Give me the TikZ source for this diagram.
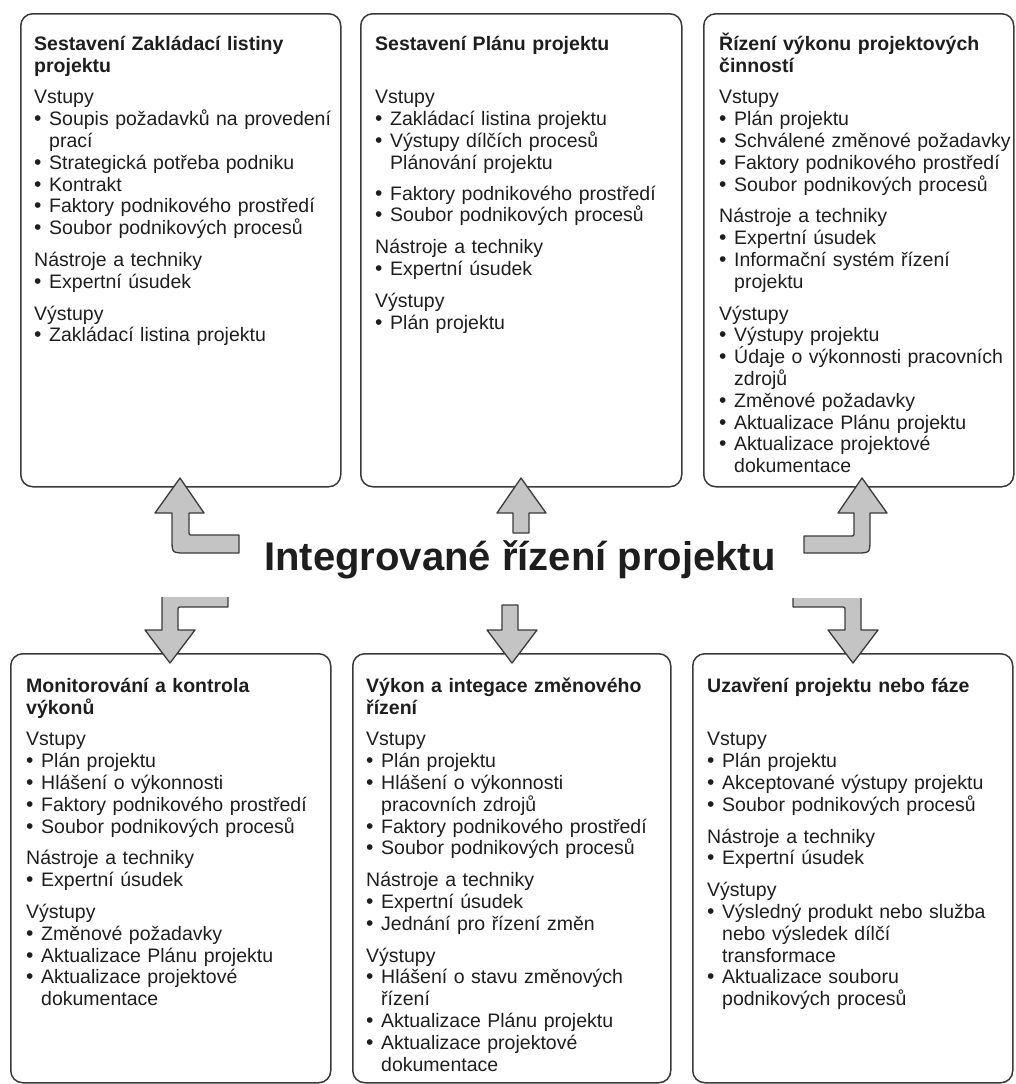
\documentclass[tikz,border=0pt]{standalone}
\usepackage{fontspec}
\setmainfont{Liberation Sans}

\definecolor{ink}{HTML}{1E1E1E}
\definecolor{frame}{HTML}{3A3A3A}
\definecolor{arrowfill}{HTML}{C4C4C4}
\definecolor{arrowline}{HTML}{3A3A3A}

% list helpers for the process boxes
\newcommand\dotmark{{\fontsize{21}{21}\selectfont•}}
\newcommand\grp[2][10pt]{\par\vspace{#1}\noindent #2}
\newcommand\bul[1]{\par\noindent\hangindent=15pt\hangafter=1\makebox[15pt][l]{\dotmark}#1\par}
\newcommand\firstline[1]{\noindent\rule{0pt}{20pt}#1}
\newcommand\bodyfont{\fontsize{19.5}{21.8}\selectfont}

\tikzset{
  procbox/.style={draw=frame, line width=1.5pt, rounded corners=12pt,
    anchor=north west, inner sep=0pt},
  boxbody/.style={anchor=north west, inner sep=0pt, text width=330pt, align=left,
    font=\bodyfont, text=ink},
  bigarrow/.style={fill=arrowfill, draw=arrowline, line width=1.3pt, line join=round},
}

\begin{document}
\lineskiplimit=-30pt
\begin{tikzpicture}[x=1pt, y=-1pt]
\useasboundingbox (0,0) rectangle (1015,1084);

% process boxes
\node[procbox, minimum width=320pt, minimum height=473pt] (b1) at (20,13) {};
\node[procbox, minimum width=321pt, minimum height=473pt] (b2) at (360,13) {};
\node[procbox, minimum width=310pt, minimum height=473pt] (b3) at (703,13) {};
\node[procbox, minimum width=320pt, minimum height=429pt] (b4) at (10,653) {};
\node[procbox, minimum width=318pt, minimum height=429pt] (b5) at (352,653) {};
\node[procbox, minimum width=320pt, minimum height=429pt] (b6) at (692,653) {};

% box contents
\node[boxbody] (t1) at (34,30) {\firstline{\textbf{Sestavení Zakládací listiny}\newline\textbf{projektu}}
\grp{Vstupy}
\bul{Soupis požadavků na provedení\newline prací}
\bul{Strategická potřeba podniku}
\bul{Kontrakt}
\bul{Faktory podnikového prostředí}
\bul{Soubor podnikových procesů}
\grp{Nástroje a techniky}
\bul{Expertní úsudek}
\grp{Výstupy}
\bul{Zakládací listina projektu}};

\node[boxbody] (t2) at (375,30) {\firstline{\textbf{Sestavení Plánu projektu}}
\grp[31.8pt]{Vstupy}
\bul{Zakládací listina projektu}
\bul{Výstupy dílčích procesů\newline Plánování projektu}
\vspace{9pt}
\bul{Faktory podnikového prostředí}
\bul{Soubor podnikových procesů}
\grp{Nástroje a techniky}
\bul{Expertní úsudek}
\grp{Výstupy}
\bul{Plán projektu}};

\node[boxbody] (t3) at (719,30) {\firstline{\textbf{Řízení výkonu projektových}\newline\textbf{činností}}
\grp{Vstupy}
\bul{Plán projektu}
\bul{Schválené změnové požadavky}
\bul{Faktory podnikového prostředí}
\bul{Soubor podnikových procesů}
\grp{Nástroje a techniky}
\bul{Expertní úsudek}
\bul{Informační systém řízení\newline projektu}
\grp{Výstupy}
\bul{Výstupy projektu}
\bul{Údaje o výkonnosti pracovních\newline zdrojů}
\bul{Změnové požadavky}
\bul{Aktualizace Plánu projektu}
\bul{Aktualizace projektové\newline dokumentace}};

\node[boxbody] (t4) at (26,672) {\firstline{\textbf{Monitorování a kontrola}\newline\textbf{výkonů}}
\grp{Vstupy}
\bul{Plán projektu}
\bul{Hlášení o výkonnosti}
\bul{Faktory podnikového prostředí}
\bul{Soubor podnikových procesů}
\grp{Nástroje a techniky}
\bul{Expertní úsudek}
\grp{Výstupy}
\bul{Změnové požadavky}
\bul{Aktualizace Plánu projektu}
\bul{Aktualizace projektové\newline dokumentace}};

\node[boxbody] (t5) at (366,672) {\firstline{\textbf{Výkon a integace změnového}\newline\textbf{řízení}}
\grp{Vstupy}
\bul{Plán projektu}
\bul{Hlášení o výkonnosti\newline pracovních zdrojů}
\bul{Faktory podnikového prostředí}
\bul{Soubor podnikových procesů}
\grp{Nástroje a techniky}
\bul{Expertní úsudek}
\bul{Jednání pro řízení změn}
\grp{Výstupy}
\bul{Hlášení o stavu změnových\newline řízení}
\bul{Aktualizace Plánu projektu}
\bul{Aktualizace projektové\newline dokumentace}};

\node[boxbody] (t6) at (707,672) {\firstline{\textbf{Uzavření projektu nebo fáze}}
\grp[31.8pt]{Vstupy}
\bul{Plán projektu}
\bul{Akceptované výstupy projektu}
\bul{Soubor podnikových procesů}
\grp{Nástroje a techniky}
\bul{Expertní úsudek}
\grp{Výstupy}
\bul{Výsledný produkt nebo služba\newline nebo výsledek dílčí\newline transformace}
\bul{Aktualizace souboru\newline podnikových procesů}};

% block arrows, upper row (pointing up into the boxes)
\draw[bigarrow] (239,535) -- (193,535) .. controls (189,535) .. (189,531) -- (189,513)
  -- (204,513) -- (180,478) -- (155,513) -- (172,513) -- (172,539)
  .. controls (172,553) .. (186,553) -- (239,553) -- cycle;
\draw[bigarrow] (513,533) -- (513,513) -- (497,513) -- (521,478) -- (546,513)
  -- (529,513) -- (529,533) -- cycle;
\draw[bigarrow] (804,536) -- (850,536) .. controls (854,536) .. (854,532) -- (854,513)
  -- (838,513) -- (862,478) -- (887,513) -- (870,513) -- (870,539)
  .. controls (870,553) .. (856,553) -- (804,553) -- cycle;

% block arrows, lower row (pointing down into the boxes)
\begin{scope}
  \clip (100,597) rectangle (300,700);
  \draw[bigarrow] (228,589) -- (176,589) .. controls (162,589) .. (162,603) -- (162,630)
    -- (145,630) -- (170,663) -- (195,630) -- (178,630) -- (178,611)
    .. controls (178,607) .. (182,607) -- (228,607) -- cycle;
\end{scope}
\draw[bigarrow] (502,605) -- (502,630) -- (487,630) -- (512,663) -- (537,630)
  -- (518,630) -- (518,605) -- cycle;
\begin{scope}
  \clip (760,598) rectangle (950,700);
  \draw[bigarrow] (793,589) -- (847,589) .. controls (861,589) .. (861,603) -- (861,630)
    -- (878,630) -- (853,663) -- (828,630) -- (845,630) -- (845,611)
    .. controls (845,607) .. (841,607) -- (793,607) -- cycle;
\end{scope}

% central heading
\node[anchor=base, inner sep=0pt, text=ink, font=\fontsize{40}{48}\selectfont\bfseries]
  (hdr) at (520,570) {Integrované řízení projektu};
\end{tikzpicture}
\end{document}
